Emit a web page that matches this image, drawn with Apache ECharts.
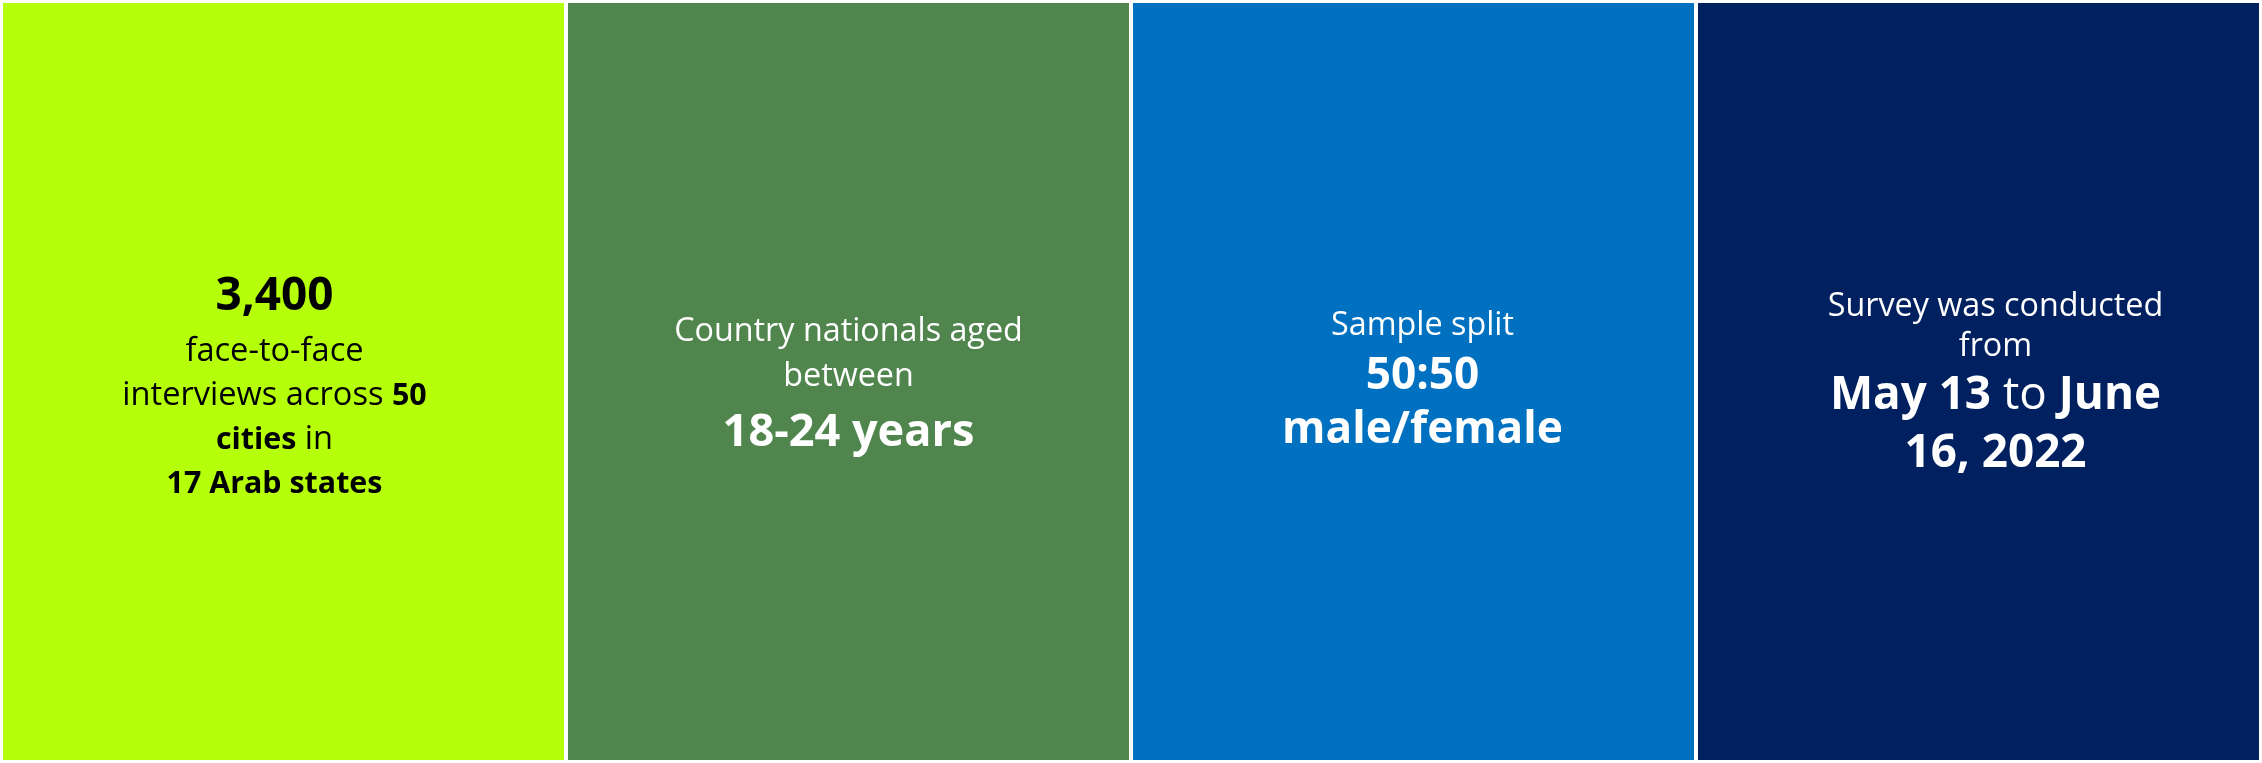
<!DOCTYPE html>
<html>
<head>
<meta charset="utf-8">
<script src="https://cdn.jsdelivr.net/npm/echarts@6/dist/echarts.min.js"></script>
<style>
html,body{margin:0;padding:0;background:#ffffff;}
#chart{width:2262px;height:763px;}
</style>
</head>
<body>
<div id="chart"></div>
<script>
// ---- data ----
var categories = ['Sample size', 'Age', 'Gender', 'Fieldwork'];
var values = [1, 1, 1, 1];
var panelTexts = [
  '{top|3,400}\n{r|face-to-face}\n{r|interviews across }{b|50}\n{b|cities}{r| in}\n{b|17 Arab states}',
  '{r|Country nationals aged}\n{r|between}\n{big|18-24 years}',
  '{r|Sample split}\n{big|50:50}\n{big|male/female}',
  '{r|Survey was conducted}\n{r|from}\n{big|May 13}{bigr| to }{big|June}\n{big|16, 2022}'
];

// ---- styles ----
var panelColors = ['#b5ff0a', '#50864e', '#0070c0', '#002060'];
var textColors = ['#000000', '#ffffff', '#ffffff', '#ffffff'];
var FONT = '"Open Sans", sans-serif';
var measureCtx = document.createElement('canvas').getContext('2d');
function fit(text, weight, target) {
  measureCtx.font = weight + ' 100px "Open Sans"';
  return Math.round(1000 * target / measureCtx.measureText(text).width) / 10;
}
var rSize2 = fit('Country nationals aged', 'normal', 349);
// per panel font sizes, line heights and label offsets
var panelStyles = [
  { r: fit('face-to-face', 'normal', 178), b: fit('17 Arab states', 'bold', 216), top: fit('3,400', 'bold', 118), big: 46, lhR: 44, lhB: 67, dx: -9, dy: 3 },
  { r: rSize2, b: rSize2, top: 46, big: fit('18-24 years', 'bold', 252), lhR: 45, lhB: 69, dx: 0, dy: 7 },
  { r: rSize2, b: rSize2, top: 46, big: fit('male/female', 'bold', 281), lhR: 47, lhB: 54, dx: 9, dy: -2 },
  { r: fit('Survey was conducted', 'normal', 335), b: 32, top: 46, big: fit('16, 2022', 'bold', 182), lhR: 40, lhB: 58, dx: 17, dy: 3 }
];

function rich(color, s) {
  return {
    r: { fontFamily: FONT, fontSize: s.r, fontWeight: 'normal', color: color, lineHeight: s.lhR },
    b: { fontFamily: FONT, fontSize: s.b, fontWeight: 'bold', color: color, lineHeight: s.lhR },
    top: { fontFamily: FONT, fontSize: s.top, fontWeight: 'bold', color: color, lineHeight: s.lhB },
    big: { fontFamily: FONT, fontSize: s.big, fontWeight: 'bold', color: color, lineHeight: s.lhB },
    bigr: { fontFamily: FONT, fontSize: s.big, fontWeight: 'normal', color: color, lineHeight: s.lhB }
  };
}

var seriesData = values.map(function (v, i) {
  var s = panelStyles[i];
  return {
    value: v,
    itemStyle: { color: panelColors[i] },
    label: {
      show: true,
      position: 'inside',
      align: 'center',
      verticalAlign: 'middle',
      offset: [s.dx, s.dy],
      formatter: panelTexts[i],
      rich: rich(textColors[i], s)
    }
  };
});

var chart = echarts.init(document.getElementById('chart'), null, { renderer: 'canvas' });
chart.setOption({
  animation: false,
  backgroundColor: '#ffffff',
  grid: { left: 1, right: 1, top: 3, bottom: 3 },
  xAxis: { type: 'category', data: categories, show: false },
  yAxis: { type: 'value', min: 0, max: 1, show: false },
  series: [{
    type: 'bar',
    data: seriesData,
    barWidth: 561,
    silent: true
  }]
});
</script>
</body>
</html>
